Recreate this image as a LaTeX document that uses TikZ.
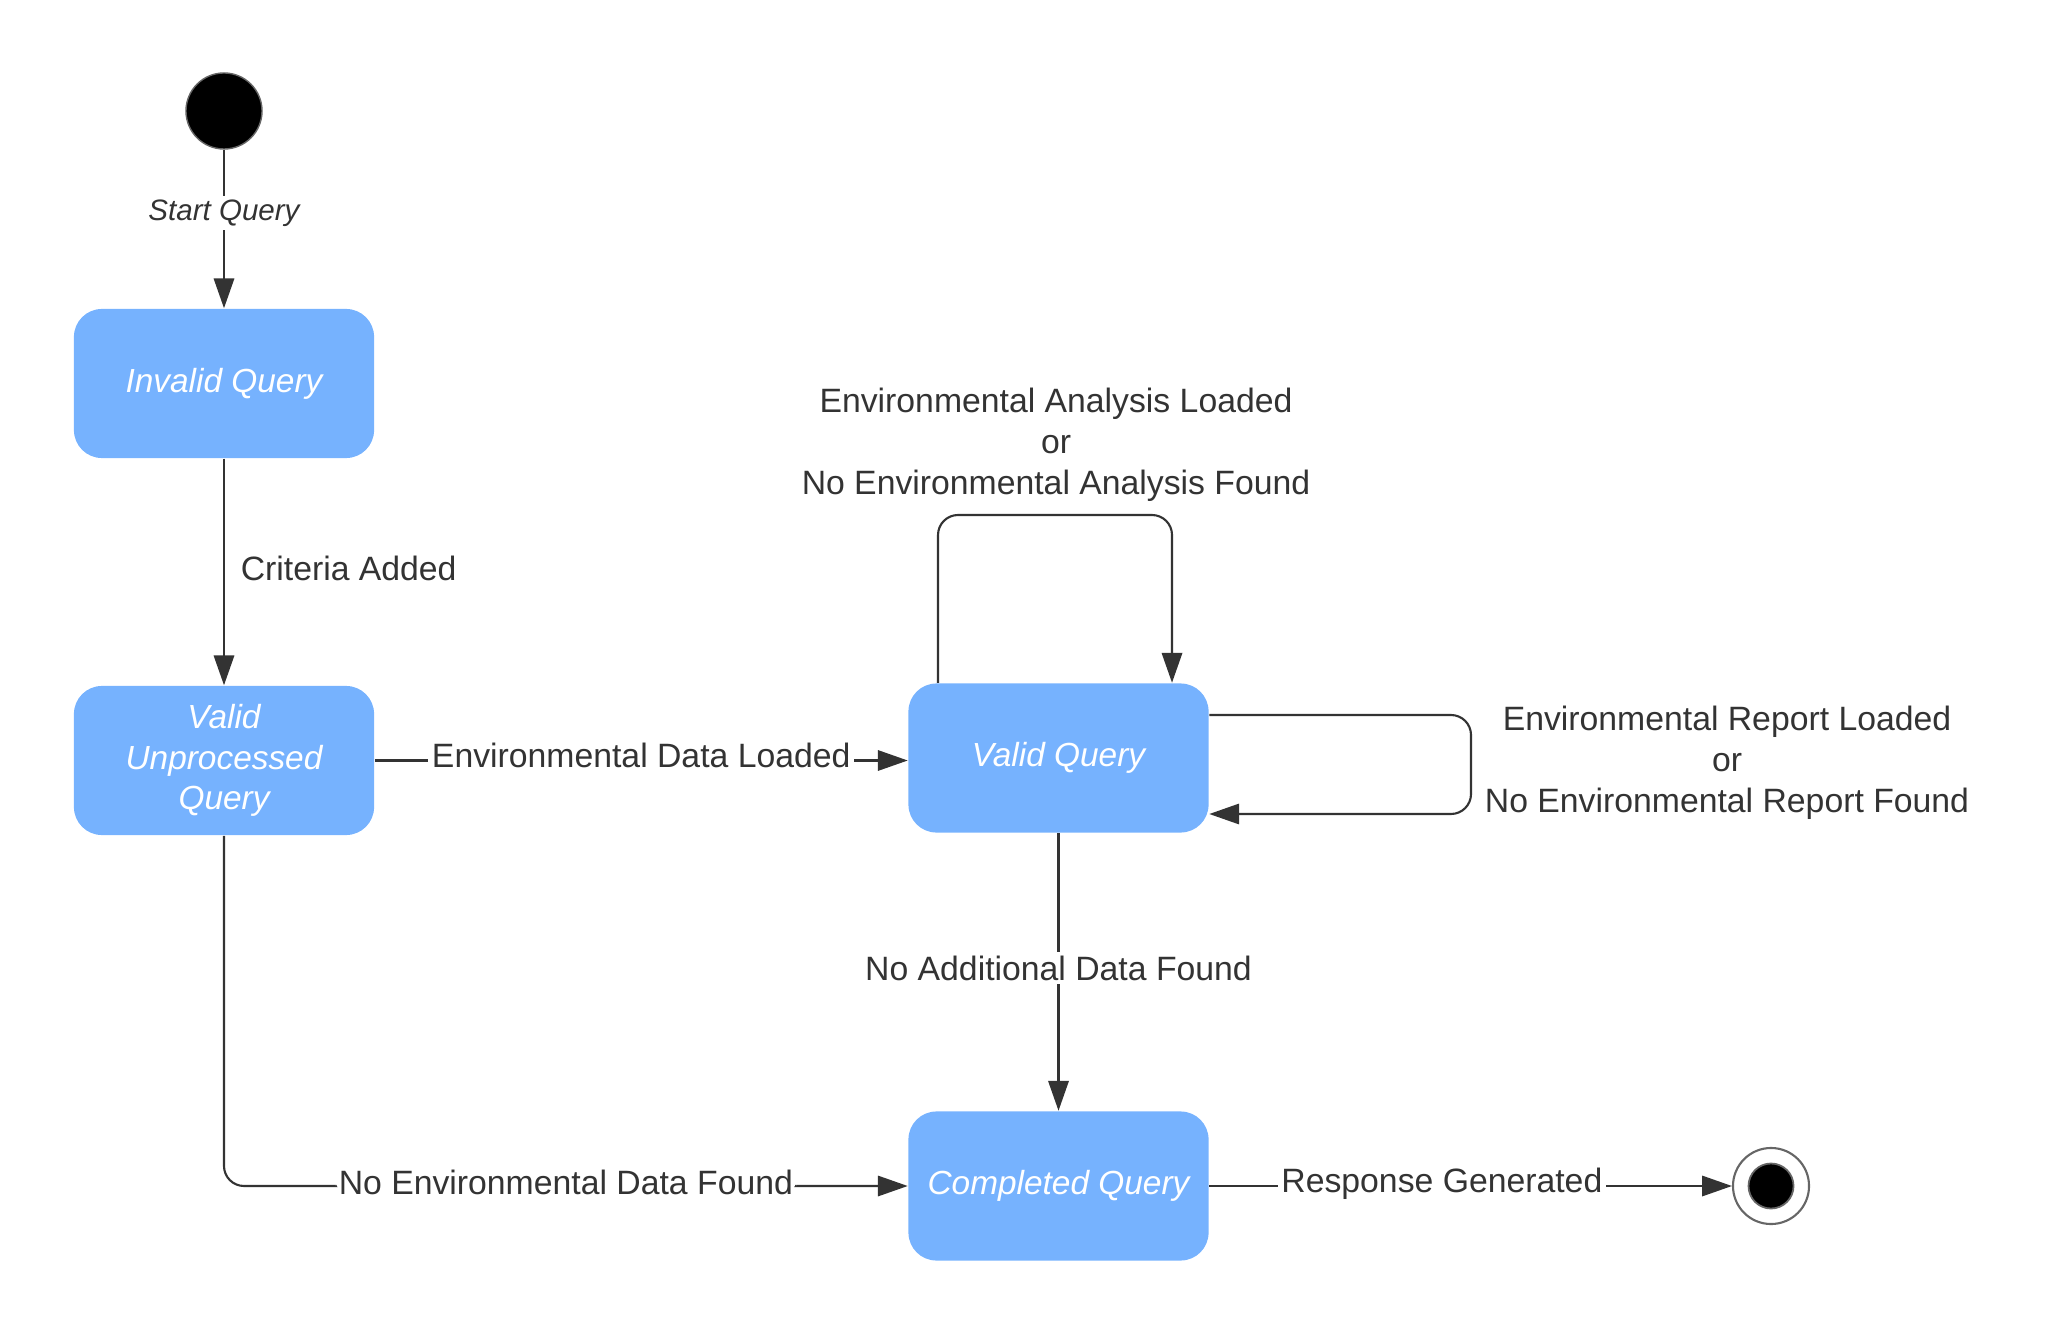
\documentclass[tikz,border=0pt]{standalone}
\usepackage{fontspec}
\setmainfont{Liberation Sans}
\usetikzlibrary{arrows.meta}
\definecolor{boxblue}{HTML}{76B2FE}
\definecolor{ink}{HTML}{333333}
\tikzset{
  state/.style={fill=boxblue, rounded corners=28*0.01cm, minimum width=3cm, minimum height=1.49cm,
     text=white, font=\fontsize{9.5}{11.5}\selectfont\itshape, align=center, inner sep=0pt},
  conn/.style={draw=ink, line width=0.6pt, -{Triangle[length=8.5pt,width=5.8pt]}},
  lbl/.style={text=ink, font=\fontsize{9.6}{11.6}\selectfont, align=center},
  onlbl/.style={lbl, fill=white, inner sep=1pt},
}
\begin{document}
\begin{tikzpicture}[x=0.01cm, y=-0.01cm]
\useasboundingbox (0,0) rectangle (2046,1337);
% start
\node[circle, fill=black, draw=black!60, line width=0.4pt, minimum size=0.76cm, inner sep=0pt] (start) at (224,111) {};
% states
\node[state] (inv) at (224,383.5) {Invalid Query};
\node[state] (vup) at (224,760.5) {Valid\\Unprocessed\\Query};
\node[state] (vq) at (1058.5,758) {Valid Query};
\node[state] (cq) at (1058.5,1186) {Completed Query};
% end
\node[circle, fill=white, draw=black!60, line width=0.6pt, minimum size=0.76cm, inner sep=0pt] (fin) at (1771,1186) {};
\node[circle, fill=black, draw=black!60, line width=0.5pt, minimum size=0.45cm, inner sep=0pt] (finin) at (fin.center) {};
% connectors
\draw[conn] (start) -- node[pos=0.4, onlbl, font=\fontsize{8.4}{10}\selectfont\itshape] (lsq) {Start Query} (inv.north);
\draw[conn] (inv.south) -- node[midway, lbl, anchor=west, xshift=0.04cm, yshift=0.04cm] (lca) {Criteria Added} (vup.north);
\draw[conn] (vup.east) -- node[midway, onlbl, yshift=0.05cm] (ledl) {Environmental Data Loaded} (vup.east -| vq.west);
\coordinate (tl) at (938,515);
\coordinate (tr) at (1172,515);
\draw[conn, rounded corners=0.2cm] (vq.north -| tl) -- (tl) -- (tr) -- (vq.north -| tr);
\node[lbl] (lea) at (1056,445) {Environmental Analysis Loaded\\or\\No Environmental Analysis Found};
\coordinate (rt) at (1471,715);
\coordinate (rb) at (1471,814);
\draw[conn, rounded corners=0.2cm] (vq.east |- rt) -- (rt) -- (rb) -- (vq.east |- rb);
\node[lbl] (ler) at (1727,763) {Environmental Report Loaded\\or\\No Environmental Report Found};
\draw[conn] (vq.south) -- node[midway, onlbl, yshift=0.04cm] (lna) {No Additional Data Found} (cq.north);
\draw[conn, rounded corners=0.2cm] (vup.south) |- node[pos=0.75, onlbl, yshift=0.04cm] (lne) {No Environmental Data Found} (cq.west);
\draw[conn] (cq.east) -- node[pos=0.445, onlbl, yshift=0.02cm] (lrg) {Response Generated} (fin.west);
\end{tikzpicture}
\end{document}
